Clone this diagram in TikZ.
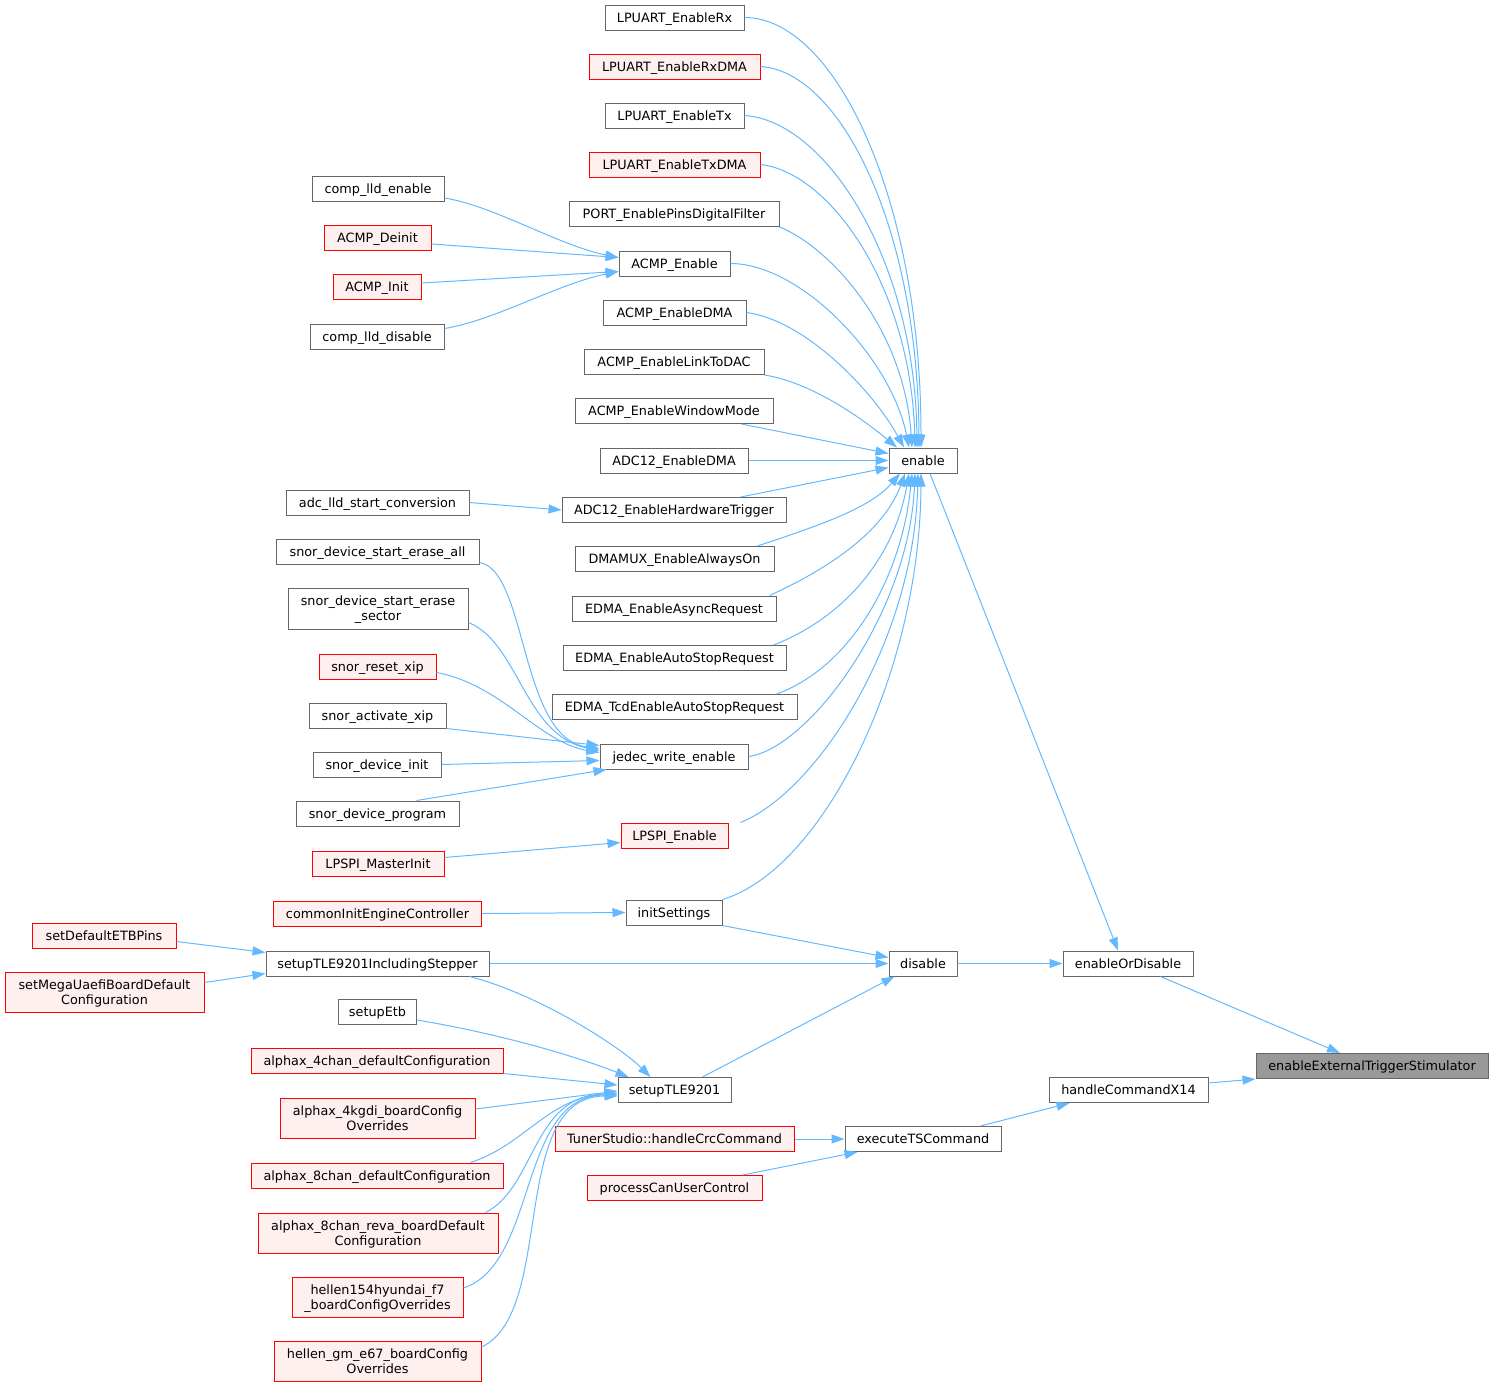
\documentclass[tikz,border=0pt]{standalone}
\usepackage{fontspec}
\setmainfont{DejaVu Sans}
\usetikzlibrary{arrows.meta}
\definecolor{edgeblue}{HTML}{63B8FF}
\definecolor{boxgray}{HTML}{666666}
\definecolor{redfill}{HTML}{FFF0F0}
\definecolor{rootfill}{HTML}{999999}
\tikzset{
  fn/.style={draw=boxgray, fill=white, line width=1pt, inner sep=0pt, align=center,
    text height=12.5pt, text depth=3.5pt, font=\fontsize{12.8}{15}\selectfont},
  rn/.style={fn, draw=red, fill=redfill},
  root/.style={fn, fill=rootfill},
  two/.style={text height=27.5pt, text depth=3.5pt},
  e/.style={draw=edgeblue, line width=1pt, -{Triangle[length=13pt,width=9pt]}},
}
\newcommand{\bx}[6]{\node[#1, minimum width=#4pt, minimum height=#5pt] (#2) at (#3) {#6};}
\begin{document}
\begin{tikzpicture}[x=1pt,y=-1pt]
\useasboundingbox (0,0) rectangle (1493,1387);
% center column
\bx{fn}{rx}{674.5,17.5}{139}{25}{LPUART\_EnableRx}
\bx{rn}{rxdma}{674.5,66.5}{171}{25}{LPUART\_EnableRxDMA}
\bx{fn}{tx}{674.5,115.5}{139}{25}{LPUART\_EnableTx}
\bx{rn}{txdma}{674.5,164.5}{171}{25}{LPUART\_EnableTxDMA}
\bx{fn}{port}{674,214}{210}{25}{PORT\_EnablePinsDigitalFilter}
\bx{fn}{acmpen}{674.5,263.5}{111}{25}{ACMP\_Enable}
\bx{fn}{acmpdma}{674.5,312.5}{143}{25}{ACMP\_EnableDMA}
\bx{fn}{link}{674,362}{180}{25}{ACMP\_EnableLinkToDAC}
\bx{fn}{window}{674,411}{198}{25}{ACMP\_EnableWindowMode}
\bx{fn}{adcdma}{674,460.5}{148}{25}{ADC12\_EnableDMA}
\bx{fn}{hwtrig}{674,510}{224}{25}{ADC12\_EnableHardwareTrigger}
\bx{fn}{dmamux}{674.5,559}{199}{25}{DMAMUX\_EnableAlwaysOn}
\bx{fn}{async}{674,608.5}{204}{25}{EDMA\_EnableAsyncRequest}
\bx{fn}{autostop}{674.5,658}{223}{25}{EDMA\_EnableAutoStopRequest}
\bx{fn}{tcd}{674.5,707}{245}{25}{EDMA\_TcdEnableAutoStopRequest}
\bx{fn}{jedec}{674,756.5}{148}{25}{jedec\_write\_enable}
\bx{rn}{lpspi}{674.5,835.5}{107}{25}{LPSPI\_Enable}
\bx{fn}{init}{674,912.5}{96}{25}{initSettings}
\bx{fn}{tle}{674.5,1090}{113}{25}{setupTLE9201}
\bx{rn}{tuner}{674.5,1139}{239}{25}{TunerStudio::handleCrcCommand}
\bx{rn}{proc}{674.5,1188}{175}{25}{processCanUserControl}
% left column
\bx{fn}{compen}{378,189}{132}{25}{comp\_lld\_enable}
\bx{rn}{deinit}{377.5,238}{107}{25}{ACMP\_Deinit}
\bx{rn}{acmpinit}{377,287}{88}{25}{ACMP\_Init}
\bx{fn}{compdis}{377,336.5}{134}{25}{comp\_lld\_disable}
\bx{fn}{adclld}{377.5,502.5}{183}{25}{adc\_lld\_start\_conversion}
\bx{fn}{eraseall}{377.5,551.5}{203}{25}{snor\_device\_start\_erase\_all}
\bx{fn,two}{erasesec}{378,608.5}{180}{41}{snor\_device\_start\_erase\\\_sector}
\bx{rn}{resetxip}{377.5,666.5}{117}{25}{snor\_reset\_xip}
\bx{fn}{actxip}{377.5,715.5}{137}{25}{snor\_activate\_xip}
\bx{fn}{devinit}{377,764.5}{128}{25}{snor\_device\_init}
\bx{fn}{devprog}{377.5,813.5}{163}{25}{snor\_device\_program}
\bx{rn}{masterinit}{378,863.5}{132}{25}{LPSPI\_MasterInit}
\bx{rn}{common}{377.5,913.5}{208}{25}{commonInitEngineController}
\bx{fn}{incl}{377.5,963.5}{223}{25}{setupTLE9201IncludingStepper}
\bx{fn}{etb}{377.5,1012}{78}{25}{setupEtb}
\bx{rn}{afourchan}{377,1060.5}{252}{25}{alphax\_4chan\_defaultConfiguration}
\bx{rn,two}{afourkgdi}{377.5,1118}{195}{40}{alphax\_4kgdi\_boardConfig\\Overrides}
\bx{rn}{aeightchan}{377,1175.5}{252}{25}{alphax\_8chan\_defaultConfiguration}
\bx{rn,two}{aeightreva}{378,1233}{240}{40}{alphax\_8chan\_reva\_boardDefault\\Configuration}
\bx{rn,two}{hellena}{377.5,1297}{171}{40}{hellen154hyundai\_f7\\\_boardConfigOverrides}
\bx{rn,two}{hellenb}{377.5,1361}{207}{40}{hellen\_gm\_e67\_boardConfig\\Overrides}
% far left
\bx{rn}{setdef}{104,935.5}{144}{25}{setDefaultETBPins}
\bx{rn,two}{setmega}{104.5,992.5}{199}{40}{setMegaUaefiBoardDefault\\Configuration}
% right
\bx{fn}{enable}{923,460.5}{68}{25}{enable}
\bx{fn}{disable}{923,963.5}{68}{25}{disable}
\bx{fn}{exects}{923,1139}{156}{25}{executeTSCommand}
\bx{fn}{enordis}{1128,963.5}{130}{25}{enableOrDisable}
\bx{fn}{xfourteen}{1128.5,1090}{159}{25}{handleCommandX14}
\bx{root}{rootn}{1372,1066}{232}{25}{enableExternalTriggerStimulator}

% edges into enable (top side)
\draw[e] (rx.east) .. controls +(90,0) and +(0,-250) .. ([xshift=-2]enable.north);
\draw[e] (rxdma.east) .. controls +(80,5) and +(-1,-220) .. ([xshift=-4]enable.north);
\draw[e] (tx.east) .. controls +(80,5) and +(-2,-190) .. ([xshift=-6]enable.north);
\draw[e] (txdma.east) .. controls +(70,8) and +(-4,-160) .. ([xshift=-8]enable.north);
\draw[e] (port.south east) .. controls +(50,20) and +(-8,-120) .. ([xshift=-11]enable.north);
\draw[e] (acmpen.east) .. controls +(70,0) and +(-18,-90) .. ([xshift=-14]enable.north);
\draw[e] (acmpdma.east) .. controls +(60,8) and +(-30,-55) .. ([xshift=-19]enable.north);
\draw[e] (link.south east) .. controls +(50,8) and +(-30,-25) .. ([xshift=-26]enable.north);
\draw[e] ([xshift=-32]window.south east) -- ([yshift=7]enable.west);
\draw[e] (adcdma.east) -- (enable.west);
\draw[e] ([xshift=-46]hwtrig.north east) -- ([yshift=-7]enable.west);
% edges into enable (bottom side)
\draw[e] ([xshift=-17]dmamux.north east) .. controls +(60,-20) and +(-30,35) .. ([xshift=-23]enable.south);
\draw[e] ([xshift=-7]async.north east) .. controls +(55,-25) and +(-22,60) .. ([xshift=-18]enable.south);
\draw[e] ([xshift=-13]autostop.north east) .. controls +(65,-25) and +(-16,90) .. ([xshift=-14]enable.south);
\draw[e] ([xshift=-21]tcd.north east) .. controls +(70,-25) and +(-11,110) .. ([xshift=-11]enable.south);
\draw[e] (jedec.east) .. controls +(60,-8) and +(-6,140) .. ([xshift=-8]enable.south);
\draw[e] ([xshift=12]lpspi.north east) .. controls +(75,-30) and +(-4,170) .. ([xshift=-5]enable.south);
\draw[e] (init.north east) .. controls +(100,-30) and +(-1,200) .. ([xshift=-2]enable.south);
% enable -> enableOrDisable
\draw[e] ([xshift=7]enable.south) -- ([xshift=-10]enordis.north);
% ACMP_Enable callers
\draw[e] ([yshift=-9]compen.east) .. controls +(50,8) and +(-60,-12) .. ([yshift=6]acmpen.west);
\draw[e] ([yshift=-6]deinit.east) -- ([yshift=6]acmpen.west);
\draw[e] ([yshift=4]acmpinit.east) -- ([yshift=-8]acmpen.west);
\draw[e] ([yshift=8]compdis.east) .. controls +(50,-8) and +(-60,12) .. ([yshift=-8]acmpen.west);
% ADC12 hardware trigger
\draw[e] (adclld.east) -- (hwtrig.west);
% jedec callers
\draw[e] ([yshift=-11]eraseall.east) .. controls +(48,8) and +(-80,-10) .. ([yshift=8]jedec.west);
\draw[e] ([yshift=-14]erasesec.east) .. controls +(50,20) and +(-75,-15) .. ([yshift=6]jedec.west);
\draw[e] ([yshift=-6]resetxip.east) .. controls +(65,12) and +(-60,-10) .. ([yshift=4]jedec.west);
\draw[e] (actxip.south east) -- ([yshift=11]jedec.west);
\draw[e] (devinit.east) -- ([yshift=-4]jedec.west);
\draw[e] ([xshift=-43]devprog.north east) -- ([xshift=7]jedec.south west);
% LPSPI
\draw[e] ([yshift=6]masterinit.east) -- ([yshift=-7]lpspi.west);
% initSettings
\draw[e] (common.east) -- (init.west);
% disable callers
\draw[e] (init.south east) -- ([yshift=6]disable.west);
\draw[e] (incl.east) -- (disable.west);
\draw[e] ([xshift=28]tle.north) -- ([xshift=6]disable.south west);
% setupTLE9201IncludingStepper callers
\draw[e] ([yshift=-6]setdef.east) -- ([yshift=11]incl.west);
\draw[e] ([yshift=10]setmega.east) -- ([yshift=-10]incl.west);
% setupTLE9201 callers
\draw[e] ([xshift=-20]incl.south east) .. controls +(70,18) and +(-30,-30) .. ([xshift=-24]tle.north);
\draw[e] ([yshift=-8]etb.east) .. controls +(90,15) and +(-45,-18) .. ([xshift=-46]tle.north);
\draw[e] (afourchan.south east) -- ([yshift=5]tle.west);
\draw[e] ([yshift=9]afourkgdi.east) -- ([yshift=-1]tle.west);
\draw[e] ([xshift=-33]aeightchan.north east) .. controls +(55,-18) and +(-70,5) .. ([yshift=-3]tle.west);
\draw[e] ([xshift=-13]aeightreva.north east) .. controls +(50,-25) and +(-85,0) .. ([yshift=-4]tle.west);
\draw[e] ([yshift=9]hellena.east) .. controls +(75,-25) and +(-100,0) .. ([yshift=-5]tle.west);
\draw[e] ([yshift=14]hellenb.east) .. controls +(75,-35) and +(-110,0) .. ([yshift=-6]tle.west);
% right part
\draw[e] (disable.east) -- (enordis.west);
\draw[e] ([xshift=-33]enordis.south east) -- ([xshift=-32]rootn.north);
\draw[e] ([yshift=7]xfourteen.east) -- (rootn.south west);
\draw[e] ([xshift=-21]exects.north east) -- ([xshift=21]xfourteen.south west);
\draw[e] (tuner.east) -- (exects.west);
\draw[e] ([xshift=-20]proc.north east) -- ([xshift=13]exects.south west);
\end{tikzpicture}
\end{document}
